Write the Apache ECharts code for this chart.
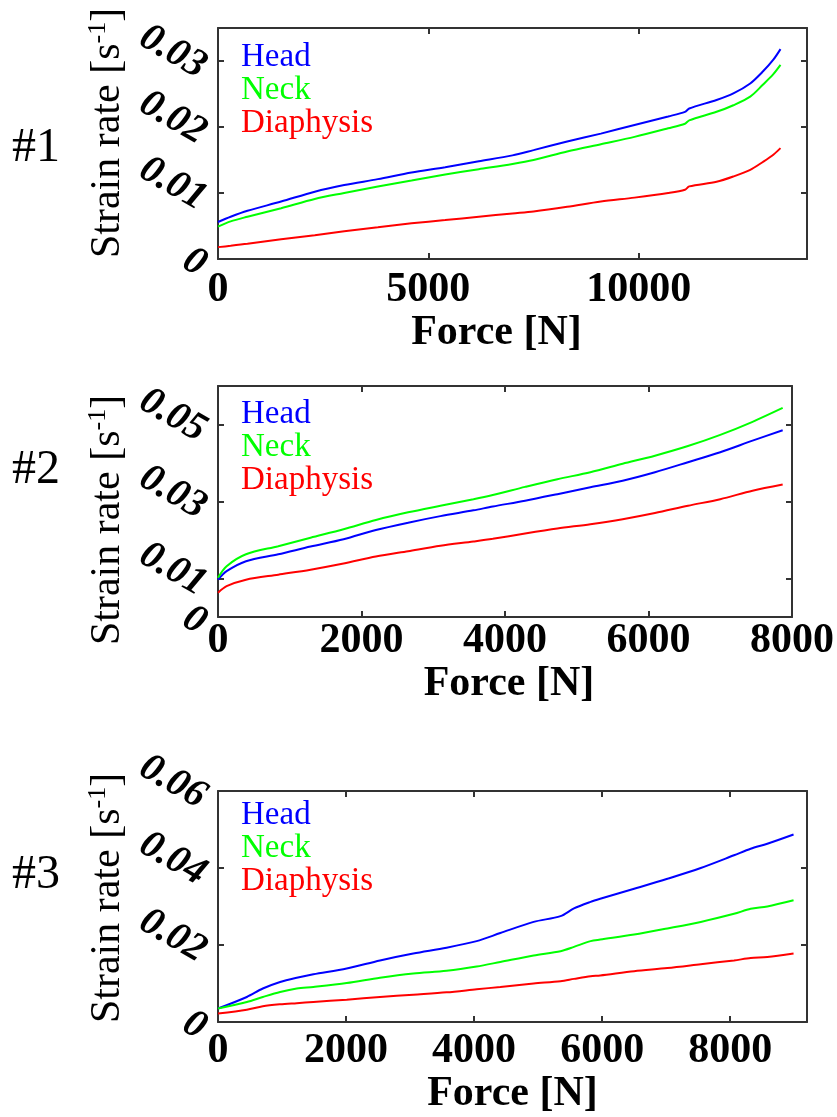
<!DOCTYPE html>
<html>
<head>
<meta charset="utf-8">
<script src="https://cdn.jsdelivr.net/npm/echarts@6/dist/echarts.min.js"></script>
<style>
html,body{margin:0;padding:0;background:#fff;}
#chart{width:837px;height:1117px;}
</style>
</head>
<body>
<div id="chart"></div>
<script>
// ---------- DATA ----------
var seriesNames = ['Head', 'Neck', 'Diaphysis'];
var panelLabels = ['#1', '#2', '#3'];

// Panel #1
var force1 = [0, 300, 700, 1500, 2300, 3000, 3800, 4600, 5400, 6200, 7000, 7500, 8300, 9100, 9900, 10700, 11100, 11200, 11850, 12250, 12650, 12950, 13200, 13370];
var head1  = [0.0056, 0.0064, 0.0073, 0.0087, 0.0102, 0.0112, 0.0121, 0.0131, 0.0139, 0.0148, 0.0157, 0.0165, 0.0178, 0.0190, 0.0203, 0.0216, 0.0223, 0.0228, 0.0241, 0.0251, 0.0266, 0.0284, 0.0302, 0.0318];
var neck1  = [0.0049, 0.0057, 0.0064, 0.0077, 0.0091, 0.0100, 0.0110, 0.0119, 0.0128, 0.0136, 0.0144, 0.0150, 0.0163, 0.0174, 0.0185, 0.0198, 0.0205, 0.0210, 0.0223, 0.0233, 0.0246, 0.0264, 0.0280, 0.0294];
var diaph1 = [0.0018, 0.0020, 0.0023, 0.0030, 0.0036, 0.0042, 0.0048, 0.0054, 0.0059, 0.0064, 0.0069, 0.0072, 0.0079, 0.0087, 0.0093, 0.0100, 0.0105, 0.0110, 0.0117, 0.0125, 0.0135, 0.0147, 0.0158, 0.0168];

// Panel #2
var force2 = [0, 120, 390, 840, 1290, 1750, 2200, 2650, 3100, 3560, 3830, 4280, 4730, 5190, 5640, 6090, 6550, 7000, 7450, 7870];
var head2  = [0.0097, 0.0119, 0.0145, 0.0163, 0.0183, 0.0202, 0.0226, 0.0245, 0.0262, 0.0277, 0.0287, 0.0302, 0.0319, 0.0337, 0.0354, 0.0376, 0.0402, 0.0428, 0.0458, 0.0485];
var neck2  = [0.0102, 0.0132, 0.0163, 0.0184, 0.0206, 0.0228, 0.0252, 0.0272, 0.0289, 0.0306, 0.0317, 0.0338, 0.0358, 0.0376, 0.0398, 0.0419, 0.0444, 0.0473, 0.0507, 0.0543];
var diaph2 = [0.0063, 0.0080, 0.0097, 0.0110, 0.0123, 0.0139, 0.0157, 0.0171, 0.0185, 0.0196, 0.0203, 0.0217, 0.0230, 0.0241, 0.0254, 0.0270, 0.0289, 0.0306, 0.0328, 0.0344];

// Panel #3
var force3 = [0, 450, 700, 970, 1230, 1490, 2010, 2530, 3050, 3570, 4040, 4410, 4930, 5350, 5560, 5820, 5970, 6500, 7020, 7540, 8060, 8320, 8580, 8990];
var head3  = [0.0035, 0.0065, 0.0087, 0.0104, 0.0115, 0.0124, 0.0139, 0.0160, 0.0178, 0.0193, 0.0210, 0.0231, 0.0260, 0.0275, 0.0295, 0.0312, 0.0320, 0.0346, 0.0372, 0.0400, 0.0433, 0.0450, 0.0463, 0.0487];
var neck3  = [0.0035, 0.0052, 0.0065, 0.0078, 0.0087, 0.0091, 0.0101, 0.0115, 0.0126, 0.0133, 0.0144, 0.0156, 0.0173, 0.0184, 0.0195, 0.0210, 0.0214, 0.0227, 0.0243, 0.0260, 0.0281, 0.0294, 0.0300, 0.0316];
var diaph3 = [0.0022, 0.0032, 0.0041, 0.0046, 0.0049, 0.0052, 0.0058, 0.0065, 0.0071, 0.0077, 0.0085, 0.0091, 0.0100, 0.0106, 0.0112, 0.0119, 0.0121, 0.0132, 0.0140, 0.0150, 0.0160, 0.0166, 0.0169, 0.0178];

// Axis ranges and tick values
var xMax = [14000, 8000, 9200];
var xInterval = [5000, 2000, 2000];
var yMax = [0.035, 0.06, 0.06];
var yTicks1 = [0, 0.01, 0.02, 0.03];
var yTicks2 = [0, 0.01, 0.03, 0.05];
var yTicks3 = [0, 0.02, 0.04, 0.06];

// ---------- BUILD ----------
var SERIF = "'Liberation Serif', 'DejaVu Serif', serif";
var colors = ['#0000ff', '#00ff00', '#ff0000'];
var AX = '#333333';
var panels = [
  {force: force1, vals: [head1, neck1, diaph1], ticks: yTicks1},
  {force: force2, vals: [head2, neck2, diaph2], ticks: yTicks2},
  {force: force3, vals: [head3, neck3, diaph3], ticks: yTicks3}
];
var gridTop = [28, 386, 791];
var gridH = 231;
var xLabelMargin = [10, 3, 8];
var xNameGap = [45, 38, 50];
var xNamePad = [[0, 32, 0, 0], [0, 0, 0, 8], [0, 0, 0, 0]];
var legendTop = [36, 393, 794];
var panelLabelY = [148, 470, 875];
var yTitleY = [133, 520, 898];

function fmtY(v) {
  if (Math.abs(v) < 1e-12) return '0';
  return v.toFixed(2);
}

var yLabelStyle = {show: true, margin: 10, rotate: -30, color: '#000', fontFamily: SERIF, fontStyle: 'italic', fontWeight: 'bold', fontSize: 40,
  verticalAlign: 'top', lineHeight: 20,
  showMinLabel: true, showMaxLabel: true, hideOverlap: false, formatter: fmtY};

var grids = [], xAxes = [], yAxes = [], series = [], legends = [], graphics = [];
panels.forEach(function (p, i) {
  grids.push({left: 218, right: 30, top: gridTop[i], height: gridH, containLabel: false});
  var lineStyle = {color: AX, width: 2};
  var tickStyle = {show: true, inside: true, length: 6, lineStyle: {color: AX, width: 2}};
  xAxes.push({
    type: 'value', gridIndex: i, min: 0, max: xMax[i], interval: xInterval[i],
    position: 'bottom',
    axisLine: {show: true, onZero: false, lineStyle: lineStyle},
    axisTick: tickStyle,
    splitLine: {show: false},
    axisLabel: {show: true, margin: xLabelMargin[i], color: '#000', fontFamily: SERIF, fontWeight: 'bold', fontSize: 42,
      showMaxLabel: i === 1, formatter: function (v) { return String(Math.round(v)); }},
    name: 'Force [N]', nameLocation: 'middle', nameGap: xNameGap[i],
    nameTextStyle: {color: '#000', fontFamily: SERIF, fontWeight: 'bold', fontSize: 42, padding: xNamePad[i], verticalAlign: 'top'}
  });
  xAxes.push({
    type: 'value', gridIndex: i, min: 0, max: xMax[i], interval: xInterval[i],
    position: 'top',
    axisLine: {show: true, onZero: false, lineStyle: lineStyle},
    axisTick: tickStyle,
    splitLine: {show: false}, axisLabel: {show: false}
  });
  var nonZero = p.ticks.filter(function (t) { return t !== 0; });
  yAxes.push({
    type: 'value', gridIndex: i, min: 0, max: yMax[i],
    position: 'left',
    axisLine: {show: true, onZero: false, lineStyle: lineStyle},
    axisTick: Object.assign({}, tickStyle, {customValues: p.ticks}),
    splitLine: {show: false},
    axisLabel: Object.assign({}, yLabelStyle, {customValues: nonZero})
  });
  yAxes.push({
    type: 'value', gridIndex: i, min: 0, max: yMax[i],
    position: 'right',
    axisLine: {show: true, onZero: false, lineStyle: lineStyle},
    axisTick: Object.assign({}, tickStyle, {customValues: p.ticks}),
    splitLine: {show: false}, axisLabel: {show: false}
  });
  yAxes.push({
    type: 'value', gridIndex: i, min: 0, max: yMax[i],
    position: 'left',
    axisLine: {show: false}, axisTick: {show: false}, splitLine: {show: false},
    axisLabel: Object.assign({}, yLabelStyle, {customValues: [0]})
  });
  p.vals.forEach(function (vals, k) {
    series.push({
      name: seriesNames[k], type: 'line', xAxisIndex: 2 * i, yAxisIndex: 3 * i,
      data: p.force.map(function (f, j) { return [f, vals[j]]; }),
      showSymbol: false, symbol: 'none', smooth: 0.3,
      lineStyle: {color: colors[k], width: 2}, itemStyle: {color: colors[k]},
      silent: true, animation: false, z: 3
    });
  });
  legends.push({
    orient: 'vertical', left: 231, top: legendTop[i], itemGap: 0,
    icon: 'rect', itemWidth: 0, itemHeight: 0, selectedMode: false,
    textStyle: {fontFamily: SERIF, fontSize: 33, lineHeight: 32},
    data: seriesNames.map(function (n, k) { return {name: n, textStyle: {color: colors[k]}}; })
  });
  graphics.push({
    type: 'text', x: 36, y: panelLabelY[i], silent: true,
    style: {text: panelLabels[i], fontFamily: SERIF, fontSize: 48, fontWeight: 'normal', fill: '#000', align: 'center', verticalAlign: 'middle'}
  });
  graphics.push({
    type: 'text', x: 108, y: yTitleY[i], rotation: Math.PI / 2, silent: true,
    style: {
      text: '{a|Strain rate [s}{s|-1}{a|]}',
      align: 'center', verticalAlign: 'middle',
      rich: {
        a: {fontFamily: SERIF, fontSize: 42, fill: '#000', lineHeight: 46},
        s: {fontFamily: SERIF, fontSize: 26, fill: '#000', lineHeight: 46, verticalAlign: 'top', padding: [0, 0, 22, 0]}
      }
    }
  });
});

var chart = echarts.init(document.getElementById('chart'), null, {renderer: 'canvas'});
chart.setOption({
  animation: false,
  backgroundColor: '#ffffff',
  grid: grids, xAxis: xAxes, yAxis: yAxes, series: series,
  legend: legends, graphic: graphics
});
</script>
</body>
</html>
